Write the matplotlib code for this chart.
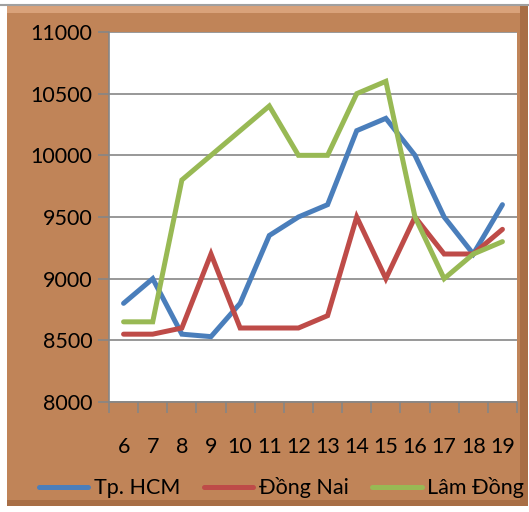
import matplotlib
matplotlib.use("Agg")
import matplotlib.pyplot as plt
from matplotlib.patches import Rectangle
from matplotlib.lines import Line2D

days = [6, 7, 8, 9, 10, 11, 12, 13, 14, 15, 16, 17, 18, 19]
hcm = [8800, 9000, 8550, 8530, 8800, 9350, 9500, 9600, 10200, 10300, 10000, 9500, 9200, 9600]
dong_nai = [8550, 8550, 8600, 9200, 8600, 8600, 8600, 8700, 9500, 9000, 9500, 9200, 9200, 9400]
lam_dong = [8650, 8650, 9800, 10000, 10200, 10400, 10000, 10000, 10500, 10600, 9500, 9000, 9200, 9300]
series_names = ["Tp. HCM", "Đồng Nai", "Lâm Đồng"]
y_ticks = [8000, 8500, 9000, 9500, 10000, 10500, 11000]

colors = ["#4A7EBB", "#BE4B48", "#98B954"]
brown = "#C08458"
W, H = 529, 512

plt.rcParams["font.family"] = ["Lato", "DejaVu Sans"]
fig = plt.figure(figsize=(W / 100, H / 100), dpi=100)
fig.patch.set_facecolor("white")


def frame_rect(x0, y0, w, h, color):
    # rectangle in pixel coordinates (top-left origin), kept behind the axes
    fig.patches.append(Rectangle((x0 / W, 1 - (y0 + h) / H), w / W, h / H,
                                 transform=fig.transFigure, facecolor=color,
                                 edgecolor="none", zorder=-5))


# chart area with a simple bevel
frame_rect(7, 5, 521, 501, brown)
frame_rect(7, 5, 521, 8, "#D9A27A")
frame_rect(520, 5, 8, 501, "#A86E45")
frame_rect(7, 500, 521, 6, "#A86E45")
fig.lines.append(Line2D([0, 1], [1 - 5 / H, 1 - 5 / H], transform=fig.transFigure,
                        color="#A0A0A0", linewidth=1.5, zorder=-4))

left, top, right, bottom = 109, 32, 517, 402
ax = fig.add_axes([left / W, 1 - bottom / H, (right - left) / W, (bottom - top) / H])
ax.set_facecolor("white")

x = list(range(len(days)))
for values, name, color in zip([hcm, dong_nai, lam_dong], series_names, colors):
    ax.plot(x, values, color=color, linewidth=3.6, label=name, solid_capstyle="round",
            solid_joinstyle="miter")

ax.set_xlim(-0.5, len(days) - 0.5)
ax.set_ylim(8000, 11000)
ax.set_yticks(y_ticks)
ax.set_yticklabels([str(t) for t in y_ticks], fontsize=15.5)
ax.set_xticks([i - 0.5 for i in range(len(days) + 1)], minor=False)
ax.set_xticklabels([])
ax.set_xticks(x, minor=True)
ax.set_xticklabels([str(d) for d in days], minor=True, fontsize=15.5)
ax.tick_params(axis="x", which="major", length=8, color="#868686", width=1.2, direction="out")
ax.tick_params(axis="x", which="minor", length=0, pad=25)
ax.tick_params(axis="y", length=8, color="#868686", width=1.2, pad=4)
ax.grid(axis="y", color="#868686", linewidth=1.2)
ax.set_axisbelow(True)
for side in ["top", "right"]:
    ax.spines[side].set_visible(False)
for side in ["left", "bottom"]:
    ax.spines[side].set_color("#868686")
    ax.spines[side].set_linewidth(1.2)

fig.legend(loc="center", bbox_to_anchor=(0.532, 1 - 488 / H), ncol=3, frameon=False,
           fontsize=15.5, handlelength=2.3, columnspacing=1.1, handletextpad=0.25)

fig.savefig("out.png", dpi=100, facecolor=fig.get_facecolor())
